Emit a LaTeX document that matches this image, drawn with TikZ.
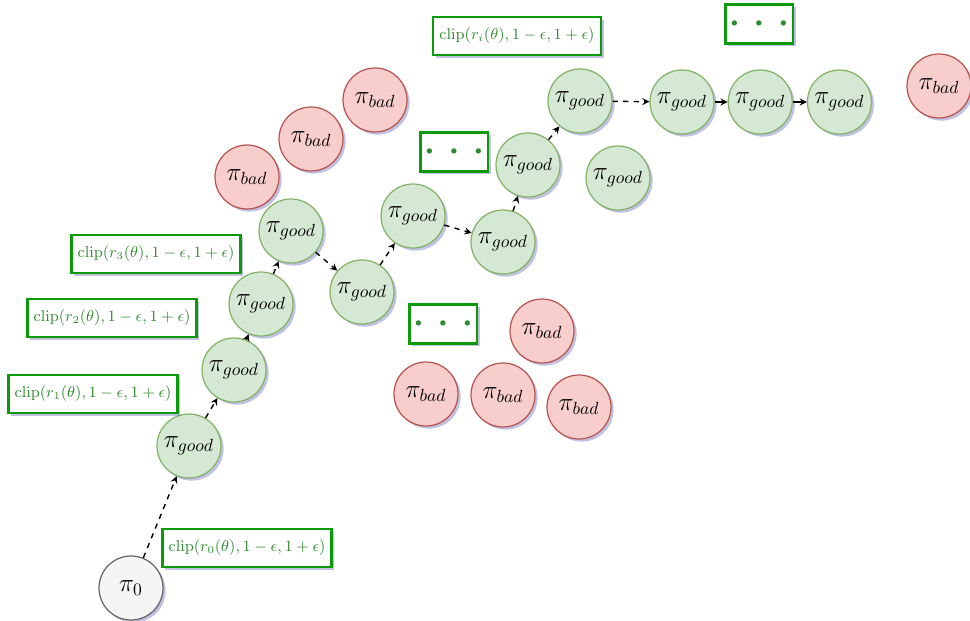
\documentclass[tikz,border=0pt]{standalone}
\usepackage{amsmath}
\usepackage{amssymb}
\usepackage{tikz}
\usepackage{xcolor}
\usetikzlibrary{arrows, positioning, shadows}

\definecolor{goodfill}{HTML}{D5E8D4}
\definecolor{goodline}{HTML}{82B366}
\definecolor{badfill}{HTML}{F8CECC}
\definecolor{badline}{HTML}{B85450}
\definecolor{startfill}{HTML}{F5F5F5}
\definecolor{startline}{HTML}{666666}
\definecolor{clipline}{HTML}{0A9A0A}
\definecolor{cliptext}{HTML}{2E8B2E}

\begin{document}
\begin{tikzpicture}[
    x=0.02cm, y=-0.02cm,
    shade/.style={drop shadow={shadow xshift=1.5pt, shadow yshift=-1.5pt, fill=blue!40!gray, opacity=0.35}},
    start/.style={circle, minimum size=1.28cm, inner sep=0pt, draw=startline, line width=0.7pt, fill=startfill, font=\Large, shade},
    good/.style={circle, minimum size=1.28cm, inner sep=0pt, draw=goodline, line width=0.7pt, fill=goodfill, font=\Large, shade},
    bad/.style={circle, minimum size=1.28cm, inner sep=0pt, draw=badline, line width=0.7pt, fill=badfill, font=\Large, shade},
    clipbox/.style={rectangle, minimum width=3.36cm, minimum height=0.76cm, draw=clipline, line width=1.6pt, fill=white, text=cliptext, font=\small, shade},
    dotbox/.style={rectangle, minimum width=1.3cm, minimum height=0.78cm, draw=clipline, line width=1.6pt, fill=white, text=cliptext, shade},
    arrow/.style={->, >=stealth, dashed, thick},
    solidarrow/.style={->, >=stealth, thick}
]
\useasboundingbox (0,0) rectangle (970,621);

% policy chain
\node (p0) [start] at (131,588) {$\pi_0$};
\node (g1) [good] at (189,446) {$\pi_{good}$};
\node (g2) [good] at (234,370) {$\pi_{good}$};
\node (g3) [good] at (261,304) {$\pi_{good}$};
\node (g4) [good] at (291,231) {$\pi_{good}$};
\node (g5) [good] at (362,292) {$\pi_{good}$};
\node (g6) [good] at (413,216) {$\pi_{good}$};
\node (g7) [good] at (503,242) {$\pi_{good}$};
\node (g8) [good] at (528,165) {$\pi_{good}$};
\node (g9) [good] at (580,101) {$\pi_{good}$};
\node (g10) [good] at (682,102) {$\pi_{good}$};
\node (g11) [good, right=0.26cm of g10] {$\pi_{good}$};
\node (g12) [good, right=0.28cm of g11] {$\pi_{good}$};
\node (g13) [good] at (618,178) {$\pi_{good}$};

% rejected policies
\node (b1) [bad] at (247,177) {$\pi_{bad}$};
\node (b2) [bad] at (311,139) {$\pi_{bad}$};
\node (b3) [bad] at (375,100) {$\pi_{bad}$};
\node (b4) [bad] at (542,331) {$\pi_{bad}$};
\node (b5) [bad] at (426,394) {$\pi_{bad}$};
\node (b6) [bad] at (503,395) {$\pi_{bad}$};
\node (b7) [bad] at (579,407) {$\pi_{bad}$};
\node (b8) [bad] at (939,86) {$\pi_{bad}$};

% clipping labels
\node (c0) [clipbox] at (247,548) {$\mathrm{clip}(r_0(\theta),1-\epsilon,1+\epsilon)$};
\node (c1) [clipbox] at (93,394) {$\mathrm{clip}(r_1(\theta),1-\epsilon,1+\epsilon)$};
\node (c2) [clipbox] at (112,318) {$\mathrm{clip}(r_2(\theta),1-\epsilon,1+\epsilon)$};
\node (c3) [clipbox] at (156,254) {$\mathrm{clip}(r_3(\theta),1-\epsilon,1+\epsilon)$};
\node (ci) [clipbox] at (517,36) {$\mathrm{clip}(r_i(\theta),1-\epsilon,1+\epsilon)$};

\node (d1) [dotbox] at (454,152) {\scriptsize$\bullet\hspace{8pt}\bullet\hspace{8pt}\bullet$};
\node (d2) [dotbox] at (443,324) {\scriptsize$\bullet\hspace{8pt}\bullet\hspace{8pt}\bullet$};
\node (d3) [dotbox] at (759,24) {\scriptsize$\bullet\hspace{8pt}\bullet\hspace{8pt}\bullet$};

\draw [arrow] (p0) -- (g1);
\draw [arrow] (g1) -- (g2);
\draw [arrow] (g2) -- (g3);
\draw [arrow] (g3) -- (g4);
\draw [arrow] (g4) -- (g5);
\draw [arrow] (g5) -- (g6);
\draw [arrow] (g6) -- (g7);
\draw [arrow] (g7) -- (g8);
\draw [arrow] (g8) -- (g9);
\draw [arrow] (g9) -- (g10);
\draw [solidarrow] (g10) -- (g11);
\draw [solidarrow] (g11) -- (g12);

\end{tikzpicture}
\end{document}
